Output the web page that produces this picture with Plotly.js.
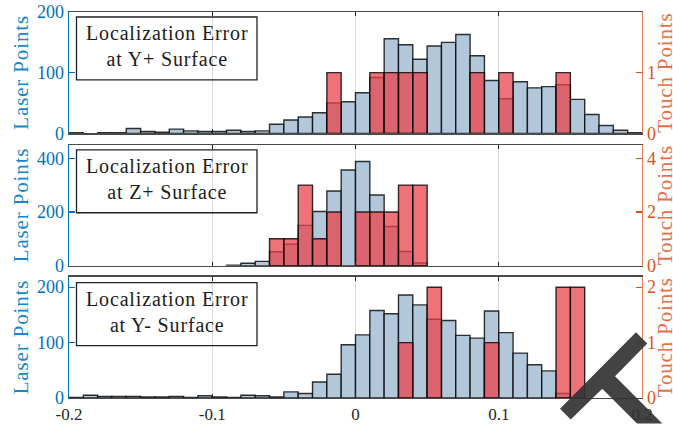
<!DOCTYPE html>
<html><head><meta charset="utf-8">
<script src="https://cdn.plot.ly/plotly-3.0.1.min.js"></script>
<style>html,body{margin:0;padding:0;background:#fff}
.annotation-text{letter-spacing:.85px}
.xtick text{letter-spacing:.8px}
</style></head>
<body><div id="chart" style="width:673px;height:424px"></div>
<script>
const binStart = -0.2, binWidth = 0.01;
const laserYPlus = [1,0,1,1,8,3,2,7,4,3,3,5,3,4,15,22,27,34,50,52,67,92,156,146,122,144,150,163,128,87,57,85,75,77,80,56,31,13,5,1];
const touchYPlus = [0,0,0,0,0,0,0,0,0,0,0,0,0,0,0,0,0,0,1,0,0,1,1,1,1,0,0,0,1,0,1,0,0,0,1,0,0,0,0,0];
const laserZPlus = [0,0,0,0,0,0,0,0,0,0,0,2,9,16,52,80,150,202,278,356,388,263,146,53,10,0,0,0,0,0,0,0,0,0,0,0,0,0,0,0];
const touchZPlus = [0,0,0,0,0,0,0,0,0,0,0,0,0,0,1,1,3,1,2,0,2,2,2,3,3,0,0,0,0,0,0,0,0,0,0,0,0,0,0,0];
const laserYMinus = [1,5,3,3,3,2,2,3,1,4,2,1,5,4,2,11,8,29,43,96,114,158,152,186,168,142,140,113,108,157,118,81,60,49,8,0,0,0,0,0];
const touchYMinus = [0,0,0,0,0,0,0,0,0,0,0,0,0,0,0,0,0,0,0,0,0,0,0,1,0,2,0,0,0,1,0,0,0,0,2,2,0,0,0,0];
const panelNames = ["Y+","Z+","Y-"];
const xTickVals = [-0.2,-0.1,0,0.1,0.2];
const xTickText = ["-0.2","-0.1","0","0.1","0.2"];
const leftRanges = [[0,200],[0,450],[0,219]];
const rightRanges = [[0,2],[0,4.5],[0,2.19]];
const leftTicks = [[0,100,200],[0,200,400],[0,100,200]];
const rightTicks = [[0,1],[0,2,4],[0,1,2]];

const W=673,H=424,L=69,R=642,T=12,B=398.5;
const tops=[12,145,277], bots=[133.5,266,398.5];
const serif='"Liberation Serif", "DejaVu Serif", serif';
const BLUE='#0072BD', ORANGE='#D95319', INK='#262626';
const px=x=>(x-L)/(R-L), py=y=>(B-y)/(B-T);

const series=[[laserYPlus,touchYPlus],[laserZPlus,touchZPlus],[laserYMinus,touchYMinus]];
const data=[]; const layout={
  width:W,height:H,paper_bgcolor:'#fff',plot_bgcolor:'#fff',showlegend:false,barmode:'overlay',
  margin:{l:L,r:W-R,t:T,b:H-B,pad:0},font:{family:serif,size:16,color:INK},annotations:[],shapes:[]
};
function bars(vals,xa,ya,fill,lineCol){
  const x=[],y=[];
  vals.forEach((v,i)=>{if(v>0){x.push(binStart+binWidth*(i+0.5));y.push(v);}});
  return {type:'bar',x,y,width:binWidth,xaxis:xa,yaxis:ya,hoverinfo:'skip',
    marker:{color:fill,line:{color:lineCol,width:1.4}}};
}
function sideLabel(text,xPx,yPx,color){
  return {xref:'paper',yref:'paper',x:px(xPx),y:py(yPx),xanchor:'center',yanchor:'middle',textangle:-90,
    text,showarrow:false,font:{family:serif,size:21,color}};
}
for(let p=0;p<3;p++){
  const s=p?String(p+1):'';
  const rightId=p+4;
  layout['xaxis'+s]={domain:[0,1],range:[-0.2,0.2],anchor:'y'+s,tickmode:'array',tickvals:xTickVals,
    ticktext:xTickText,showticklabels:p===2,ticks:'inside',ticklen:4,tickwidth:1,tickcolor:INK,
    showgrid:true,gridcolor:'rgba(0,0,0,0.14)',gridwidth:1,zeroline:false,showline:true,
    linecolor:'#4a4a4a',linewidth:1.2,mirror:'ticks',tickfont:{family:serif,size:17,color:INK}};
  const dom=[py(bots[p]),py(tops[p])];
  layout['yaxis'+s]={domain:dom,range:leftRanges[p],anchor:'x'+s,tickmode:'array',tickvals:leftTicks[p],
    ticks:'inside',ticklen:6,tickwidth:1.2,tickcolor:BLUE,showgrid:false,zeroline:false,showline:true,
    linecolor:BLUE,linewidth:1.4,tickfont:{family:serif,size:18,color:BLUE}};
  layout['yaxis'+rightId]={domain:dom,range:rightRanges[p],anchor:'x'+s,overlaying:'y'+s,side:'right',
    tickmode:'array',tickvals:rightTicks[p],ticks:'inside',ticklen:6,tickwidth:1.2,tickcolor:ORANGE,
    showgrid:false,zeroline:false,showline:true,linecolor:'#E07F52',linewidth:1.4,
    tickfont:{family:serif,size:18,color:ORANGE}};
  data.push(bars(series[p][0],'x'+s,'y'+s,'#B2C8DA','rgba(0,0,0,0.8)'));
  data.push(bars(series[p][1],'x'+s,'y'+rightId,'rgba(232,67,74,0.75)','rgba(0,0,0,0.8)'));
  const bt=[17,150,283][p], bb=bt+63, mid=(tops[p]+bots[p])/2;
  layout.shapes.push({type:'rect',xref:'paper',yref:'paper',layer:'above',x0:px(76.5),x1:px(257),y0:py(bt),y1:py(bb),
    line:{color:'#222',width:1.3},fillcolor:'rgba(255,255,255,0)'});
  layout.annotations.push({xref:'paper',yref:'paper',x:px(166.5),y:py(bt+29.5),xanchor:'center',yanchor:'middle',
    text:'Localization Error<br>at '+panelNames[p]+' Surface',showarrow:false,align:'center',
    font:{family:serif,size:20,color:'#1c1c1c'}});
  layout.annotations.push(sideLabel('Laser Points',21,mid,'#1787C9'));
  layout.annotations.push(sideLabel('Touch Points',665,mid,'#E2714A'));
}
function poly(pts){return 'M'+pts.map(q=>px(q[0]).toFixed(4)+','+py(q[1]).toFixed(4)).join(' L')+' Z';}
layout.shapes.push({type:'path',xref:'paper',yref:'paper',layer:'above',opacity:0.92,fillcolor:'#333',line:{width:0},
  path:poly([[636,332.7],[647.3,344],[615,376.7],[662.3,424],[637,424],[602.3,389.3],[570.7,420],[560,409.3]])});
Plotly.newPlot('chart',data,layout,{staticPlot:true,displayModeBar:false});
</script></body></html>
